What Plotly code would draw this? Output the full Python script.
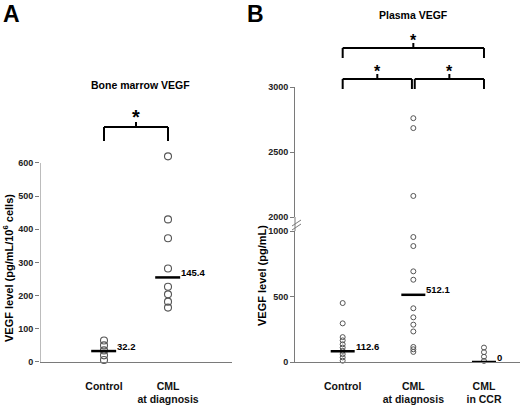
import plotly.graph_objects as go

# ---- data ----
# Panel A: bone marrow VEGF (pg/mL/10^6 cells)
bm_groups = ["Control", "CML<br>at diagnosis"]
bm_control = [65, 50, 35, 20, 6]
bm_cml = [620, 430, 373, 282, 227, 204, 182, 164]
bm_median_y = [33, 255]
bm_median_txt = ["32.2", "145.4"]

# Panel B: plasma VEGF (pg/mL)
pl_groups = ["Control", "CML<br>at diagnosis", "CML<br>in CCR"]
pl_control = [450, 295, 190, 165, 135, 110, 85, 60, 35, 10]
pl_cml = [2760, 2684, 2162, 954, 885, 692, 628, 410, 341, 285, 233, 115, 97, 77]
pl_ccr = [110, 75, 40, 8]
pl_median_y = [82, 513, 0]
pl_median_txt = ["112.6", "512.1", "0"]

BREAK_LO, BREAK_HI = 1000, 2000

W, H = 520, 407
FONT = "Liberation Sans"
GRAY = "#7a7a7a"
A_SCALE = 199 / 600  # px per unit on panel A


def px(x):
    return x / W


def py(y):
    return 1 - y / H


fig = go.Figure()

marker_a = dict(symbol="circle-open", size=7, color="#555555", line=dict(width=1.1))
marker_b = dict(symbol="circle-open", size=5, color="#555555", line=dict(width=1))

# panel A points
for i, vals in enumerate([bm_control, bm_cml], start=1):
    fig.add_trace(go.Scatter(x=[i] * len(vals), y=vals, mode="markers",
                             marker=marker_a, cliponaxis=False,
                             xaxis="x", yaxis="y", showlegend=False))
# panel A medians
for i, m in enumerate(bm_median_y, start=1):
    fig.add_trace(go.Scatter(x=[i - 0.2, i + 0.19], y=[m, m], mode="lines",
                             line=dict(color="black", width=2.5), cliponaxis=False,
                             xaxis="x", yaxis="y", showlegend=False))

# panel B points, split across the broken axis
for i, vals in enumerate([pl_control, pl_cml, pl_ccr], start=1):
    lo = [v for v in vals if v <= BREAK_LO]
    hi = [v for v in vals if v >= BREAK_HI]
    fig.add_trace(go.Scatter(x=[i] * len(lo), y=lo, mode="markers",
                             marker=marker_b, cliponaxis=False,
                             xaxis="x2", yaxis="y2", showlegend=False))
    if hi:
        fig.add_trace(go.Scatter(x=[i] * len(hi), y=hi, mode="markers",
                                 marker=marker_b, cliponaxis=False,
                                 xaxis="x2", yaxis="y3", showlegend=False))
# panel B medians
for i, m in enumerate(pl_median_y, start=1):
    fig.add_trace(go.Scatter(x=[i - 0.17, i + 0.17], y=[m, m], mode="lines",
                             line=dict(color="black", width=2.5), cliponaxis=False,
                             xaxis="x2", yaxis="y2", showlegend=False))

yfont = dict(family=FONT, size=9, color="#222222", weight="bold")
xfont = dict(family=FONT, size=10.5, color="#111111", weight="bold")

common_y = dict(showline=True, linecolor=GRAY, linewidth=1, ticks="outside",
                ticklen=4, tickcolor=GRAY, showgrid=False, zeroline=False,
                tickfont=yfont, automargin=False)
common_x = dict(showline=True, linecolor=GRAY, linewidth=1, ticks="",
                showgrid=False, zeroline=False, tickfont=xfont,
                ticklabelstandoff=14, automargin=False)

a_top = 650
ya = dict(common_y, showline=False)

fig.update_layout(
    template="none",
    width=W, height=H,
    margin=dict(l=0, r=0, t=0, b=0, pad=0),
    paper_bgcolor="white", plot_bgcolor="white",
    xaxis=dict(domain=[px(40), px(232)], range=[0, 3], anchor="y",
               tickvals=[1, 2], ticktext=bm_groups, **common_x),
    yaxis=dict(domain=[py(362), py(362 - a_top * A_SCALE)], range=[0, a_top],
               anchor="x", tickvals=[0, 100, 200, 300, 400, 500, 600], **ya),
    xaxis2=dict(domain=[px(295), 1.0], range=[0.325, 3.51], anchor="y2",
                tickvals=[1, 2, 3], ticktext=pl_groups, **common_x),
    yaxis2=dict(domain=[py(362), py(231)], range=[0, BREAK_LO], anchor="x2",
                tickvals=[0, 500, 1000], **common_y),
    yaxis3=dict(domain=[py(217), py(87)], range=[BREAK_HI, 3000], anchor="x2",
                tickvals=[2000, 2500, 3000], **common_y),
)

ann = []


def text(x, y, s, size=10.5, xref="paper", yref="paper", **kw):
    kw.setdefault("xanchor", "center")
    kw.setdefault("yanchor", "middle")
    ann.append(dict(x=x, y=y, xref=xref, yref=yref, text=s, showarrow=False,
                    font=dict(family=FONT, size=size, color="black", weight="bold"),
                    **kw))


# panel letters and titles
text(px(1), py(-1), "A", size=23, xanchor="left", yanchor="top")
text(px(245), py(-1), "B", size=23, xanchor="left", yanchor="top")
text(px(140), py(85), "Bone marrow VEGF", size=10.5)
text(px(413), py(15), "Plasma VEGF", size=10.5)
text(px(8), py(268), "VEGF level (pg/mL/10<sup>6</sup> cells)", size=11, textangle=-90)
text(px(262), py(276), "VEGF level (pg/mL)", size=11, textangle=-90)

# median labels
for i, (m, s) in enumerate(zip(bm_median_y, bm_median_txt), start=1):
    text(i + 0.19, m, s, size=9.5, xref="x", yref="y", xanchor="left",
         xshift=-1, yshift=5)
for i, (m, s) in enumerate(zip(pl_median_y, pl_median_txt), start=1):
    text(i + 0.17, m, s, size=9.5, xref="x2", yref="y2", xanchor="left",
         xshift=-1, yshift=5)

shapes = []


def seg(x0, y0, x1, y1, xref="paper", yref="paper", width=2, color="black"):
    shapes.append(dict(type="line", x0=x0, y0=y0, x1=x1, y1=y1, xref=xref,
                       yref=yref, line=dict(color=color, width=width)))


# panel A y axis line stops at the top tick
seg(0, 0, 0, 600, xref="x", yref="y", width=1, color=GRAY)


# significance brackets
def bracket(xa, xb, ytop, ybot, xref, star_size):
    seg(xa, py(ytop), xb, py(ytop), xref)
    seg(xa, py(ytop), xa, py(ybot), xref)
    seg(xb, py(ytop), xb, py(ybot), xref)
    xm = (xa + xb) / 2
    seg(xm, py(ytop), xm, py(ytop - 5), xref)
    text(xm, py(ytop - 3), "*", size=star_size, xref=xref, yanchor="bottom",
         yshift=-6)


bracket(1, 2, 127, 141, "x", 20)
bracket(1, 3, 48, 58, "x2", 16)
bracket(1, 1.98, 79, 89, "x2", 16)
bracket(2.02, 3, 79, 89, "x2", 16)

# axis break on panel B
seg(px(295), py(217), px(295), py(231), width=1, color=GRAY)
for dy in (0, 4):
    seg(px(292), py(226 + dy), px(301), py(220 + dy), width=1, color=GRAY)

fig.update_layout(annotations=ann, shapes=shapes)

fig.write_html("out.html", config={"displayModeBar": False},
               post_script="document.body.style.margin='0';")
